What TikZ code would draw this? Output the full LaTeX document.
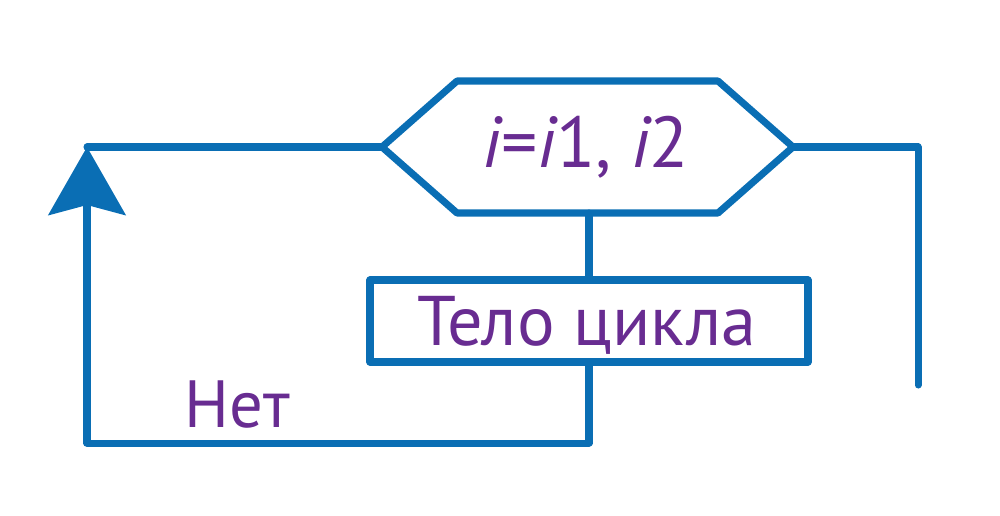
\documentclass[tikz,border=0pt]{standalone}
\usepackage{fontspec}
\setmainfont{PT Sans}
\usetikzlibrary{arrows.meta}
\definecolor{lineblue}{RGB}{10,110,180}
\definecolor{txtpurple}{RGB}{104,44,145}
\tikzset{
  conn/.style={draw=lineblue, line width=4pt, line cap=round, line join=round},
  hexbox/.style={rectangle, minimum width=411*0.02cm, minimum height=132*0.02cm,
     inner sep=0pt, outer sep=0pt, text=txtpurple, font=\fontsize{40}{44}\selectfont},
  hexline/.style={draw=lineblue, line width=4pt, line join=round},
  bodybox/.style={rectangle, draw=lineblue, line width=4pt, line join=round, minimum width=438*0.02cm,
     minimum height=82*0.02cm, inner sep=0pt, outer sep=0pt, text=txtpurple, font=\fontsize{40}{44}\selectfont},
  lbl/.style={text=txtpurple, font=\fontsize{38}{42}\selectfont, inner sep=0pt},
  bigarrow/.style={-{Stealth[length=68*0.02cm, width=77*0.02cm, inset=10*0.02cm]}}
}
\begin{document}
\begin{tikzpicture}[x=0.02cm,y=-0.02cm]
\useasboundingbox (0,0) rectangle (1000,515);
\node[hexbox] (hex) at (587.5,147) {};
\node[text=txtpurple, font=\fontsize{41}{44}\selectfont, inner sep=0pt, anchor=base] (hextxt) at (586,167) {\itshape i\upshape =\itshape i\upshape 1, \itshape i\upshape 2};
\draw[hexline] (hex.west) -- ([xshift=75*0.02cm]hex.north west) -- ([xshift=-75*0.02cm]hex.north east)
   -- (hex.east) -- ([xshift=-75*0.02cm]hex.south east) -- ([xshift=75*0.02cm]hex.south west) -- cycle;
\node[bodybox] (body) at (589,321) {};
\node[text=txtpurple, font=\fontsize{40}{44}\selectfont, inner sep=0pt, anchor=base] (bodytxt) at (587,345) {Тело цикла};
\node[lbl, anchor=base west] (no) at (184,427) {Нет};
\coordinate (corner) at (87,147);
\coordinate (bl) at (87,443);
\coordinate (rt) at (918,147);
\coordinate (rb) at (918,385);
\draw[conn] (hex.south -| body.north) -- (body.north);
\draw[conn, bigarrow] (body.south) -- (body.south |- bl) -- (bl) -- (corner);
\draw[conn] (corner) -- (hex.west);
\draw[conn] (hex.east) -- (rt) -- (rb);
\end{tikzpicture}
\end{document}
